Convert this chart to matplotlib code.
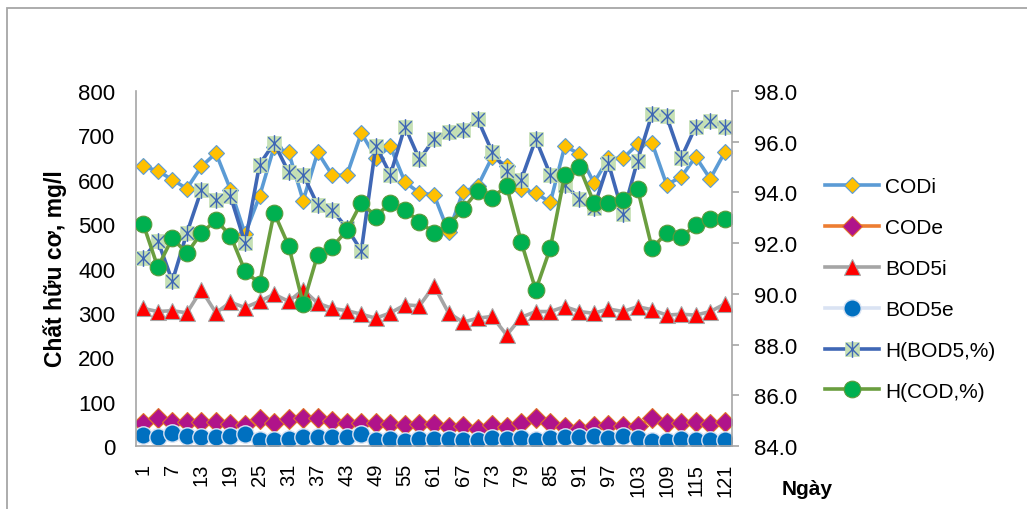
import matplotlib
matplotlib.use('Agg')
import matplotlib.pyplot as plt
from matplotlib.path import Path
from matplotlib.patches import Rectangle
import numpy as np

plt.rcParams['font.family'] = ['Liberation Sans', 'DejaVu Sans']

# sampling days (every 3 days), label shown every 6 days
days = list(range(1, 122, 3))

cod_in = [630, 620, 600, 580, 630, 660, 578, 478, 563, 674, 662, 553, 662, 610, 610, 705, 650, 675, 595, 570,
          566, 482, 573, 585, 651, 632, 579, 570, 549, 676, 658, 593, 648, 648, 680, 683, 589, 606, 652, 602, 662]
cod_out = [51, 62, 53, 55, 53, 53, 50, 47, 60, 51, 60, 62, 62, 57, 52, 51, 51, 50, 47, 50,
           50, 42, 45, 38, 47, 42, 51, 62, 52, 42, 39, 45, 47, 46, 45, 62, 51, 52, 55, 50, 53]
bod_in = [310, 303, 305, 300, 352, 300, 324, 312, 326, 342, 326, 352, 322, 310, 305, 297, 288, 300, 318, 316,
          361, 300, 279, 288, 292, 250, 290, 303, 303, 314, 303, 299, 309, 303, 314, 307, 295, 297, 295, 303, 320]
bod_out = [25, 21, 29, 22, 20, 20, 22, 28, 14, 13, 16, 20, 20, 20, 21, 27, 13, 16, 11, 16,
           15, 15, 14, 13, 18, 15, 18, 14, 18, 20, 21, 22, 18, 22, 18, 11, 11, 15, 13, 14, 14]
h_bod = [91.4, 92.1, 90.5, 92.4, 94.1, 93.7, 93.85, 92.0, 95.1, 95.95, 94.8, 94.7, 93.5, 93.3, 92.6, 91.7,
         95.85, 94.7, 96.6, 95.3, 96.1, 96.4, 96.45, 96.9, 95.6, 94.85, 94.5, 96.1, 94.7, 94.3, 93.75, 93.4,
         95.15, 93.15, 95.25, 97.1, 97.0, 95.35, 96.6, 96.8, 96.6]
h_cod = [92.75, 91.05, 92.2, 91.6, 92.4, 92.9, 92.3, 90.9, 90.4, 93.2, 91.9, 89.6, 91.55, 91.85, 92.5, 93.6,
         93.05, 93.6, 93.3, 92.85, 92.4, 92.7, 93.35, 94.05, 93.8, 94.25, 92.05, 90.15, 91.8, 94.7, 95.0, 93.6,
         93.6, 93.7, 94.15, 91.8, 92.4, 92.25, 92.7, 92.95, 92.95]

x = np.arange(len(days))

fig = plt.figure(figsize=(10.27, 5.10), dpi=100)
ax = fig.add_axes([136/1027, 1-447/510, (732-136)/1027, (447-92)/510])
ax2 = ax.twinx()

lw = 2.6
l1, = ax.plot(x, cod_in, color='#5b9bd5', lw=lw, marker='D', ms=8.5, mfc='#ffc000', mec='#5b9bd5', mew=0.8, label='CODi')
l2, = ax.plot(x, cod_out, color='#ed7d31', lw=lw, marker='D', ms=10, mfc='#b0138a', mec='#e07028', mew=0.8, label='CODe')
l3, = ax.plot(x, bod_in, color='#a5a5a5', lw=lw, marker='^', ms=11, mfc='#ff0000', mec='#a5a5a5', mew=0.8, label='BOD5i')
l4, = ax.plot(x, bod_out, color='#dae3f3', lw=lw, marker='o', ms=12.5, mfc='#0070c0', mec='#dae3f3', mew=1.0, label='BOD5e')

star = Path([(0, -1), (0, 1), (-0.75, -0.75), (0.75, 0.75), (-0.75, 0.75), (0.75, -0.75)],
            [Path.MOVETO, Path.LINETO, Path.MOVETO, Path.LINETO, Path.MOVETO, Path.LINETO])
l5, = ax2.plot(x, h_bod, color='#3f67b5', lw=lw, marker='s', ms=10, mfc='#c5e0b4', mec='#c5e0b4', mew=0.5)
l5s, = ax2.plot(x, h_bod, ls='none', marker=star, ms=12, mfc='none', mec='#3f67b5', mew=1.0)
l6, = ax2.plot(x, h_cod, color='#6a9e3f', lw=lw, marker='o', ms=12, mfc='#00b050', mec='#5b9a3c', mew=0.8)

ax.set_xlim(-0.5, len(days) - 0.5)
ax.set_ylim(0, 800)
ax.set_yticks(range(0, 801, 100))
ax2.set_ylim(84, 98)
ax2.set_yticks(np.arange(84, 98.1, 2))
ax2.set_yticklabels(['%.1f' % v for v in np.arange(84, 98.1, 2)])

ax.set_xticks(x[::2])
ax.set_xticklabels([str(d) for d in days[::2]], rotation=90)

for a in (ax, ax2):
    a.spines['top'].set_visible(False)
    for s in a.spines.values():
        s.set_color('#a6a6a6')
        s.set_linewidth(1.2)
ax.spines['right'].set_visible(False)
ax2.spines['left'].set_visible(False)
ax2.spines['bottom'].set_visible(False)

ax.tick_params(axis='y', length=0, pad=15, labelsize=16)
ax.tick_params(axis='x', length=0, pad=12, labelsize=14.5)
ax2.tick_params(axis='y', length=5, width=1.2, color='#a6a6a6', pad=11, labelsize=16)

fig.text(55/1027, 1-269/510, 'Chất hữu cơ, mg/l', rotation=90, ha='center', va='center',
         fontsize=16.5, fontweight='bold')
fig.text(807/1027, 1-490/510, 'Ngày', ha='center', va='center', fontsize=15, fontweight='bold')

handles = [l1, l2, l3, l4, (l5, l5s), l6]
labels = ['CODi', 'CODe', 'BOD5i', 'BOD5e', 'H(BOD5,%)', 'H(COD,%)']
fig.legend(handles, labels, loc='center left', bbox_to_anchor=(825/1027, 1-290/510), frameon=False,
           fontsize=15, handlelength=2.6, handletextpad=0.3, labelspacing=1.05, borderpad=0, borderaxespad=0)

fig.patches.append(Rectangle((7/1027, -0.1), 1.2, 1-9/510+0.1, transform=fig.transFigure,
                             fill=False, edgecolor='#a6a6a6', lw=1.3))

fig.savefig('out.png', dpi=100)
